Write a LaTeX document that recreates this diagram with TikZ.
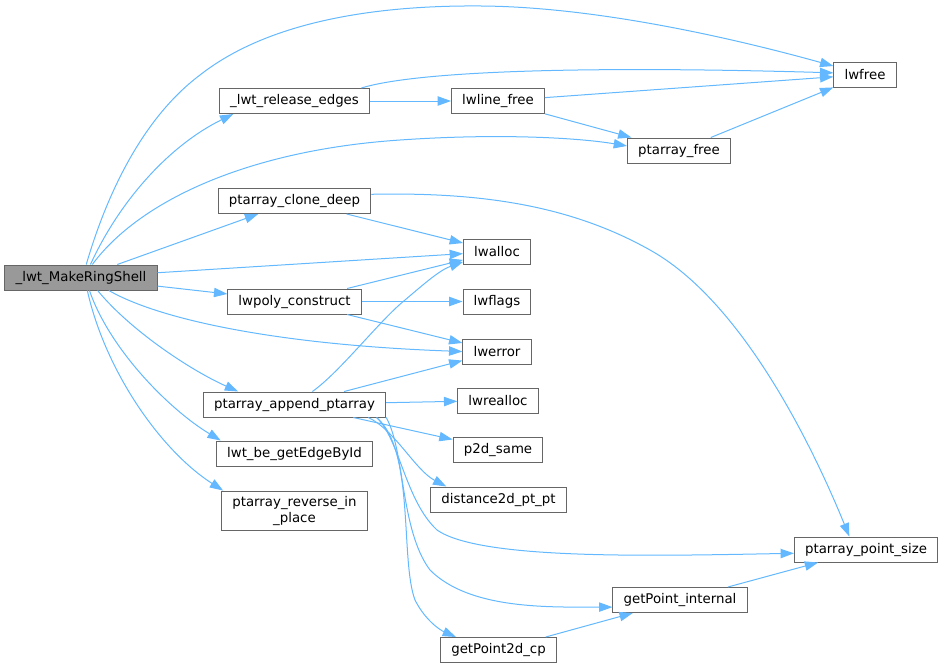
\documentclass[tikz,border=0pt]{standalone}
\usepackage{fontspec}
\setmainfont{DejaVu Sans}
\usetikzlibrary{arrows.meta}
\definecolor{edgeblue}{HTML}{63B8FF}
\definecolor{boxgray}{HTML}{666666}
\definecolor{mainfill}{HTML}{999999}
\begin{document}
\begin{tikzpicture}[x=0.75pt,y=-0.75pt,
  fn/.style={draw=boxgray,line width=0.75pt,inner xsep=8pt,minimum height=18.75pt},
  call/.style={draw=edgeblue,line width=0.75pt,-{Triangle[length=10pt,width=7pt]}}]
\useasboundingbox (0,0) rectangle (943,669);
\node[fn,fill=mainfill] (m) at (81,277.5) {\_lwt\_MakeRingShell};
\node[fn] (rel) at (294.5,101) {\_lwt\_release\_edges};
\node[fn] (lfree) at (498,101) {lwline\_free};
\node[fn] (free) at (865,74.5) {lwfree};
\node[fn] (pfree) at (679,150.5) {ptarray\_free};
\node[fn] (clone) at (294.5,201) {ptarray\_clone\_deep};
\node[fn] (alloc) at (497,251.5) {lwalloc};
\node[fn] (poly) at (294.5,301.5) {lwpoly\_construct};
\node[fn] (flags) at (497,301.5) {lwflags};
\node[fn] (err) at (497,351.5) {lwerror};
\node[fn] (app) at (294.5,404.5) {ptarray\_append\_ptarray};
\node[fn] (realloc) at (498,400.5) {lwrealloc};
\node[fn] (same) at (498,449.5) {p2d\_same};
\node[fn] (dist) at (498.5,499.5) {distance2d\_pt\_pt};
\node[fn] (edge) at (294.5,453.5) {lwt\_be\_getEdgeById};
\node[fn,align=center,inner ysep=4pt] (rev) at (294.5,511) {ptarray\_reverse\_in\\\_place};
\node[fn] (psize) at (866,549.5) {ptarray\_point\_size};
\node[fn] (gpi) at (680,600) {getPoint\_internal};
\node[fn] (gp2d) at (498.5,650) {getPoint2d\_cp};
\draw[call] (m.68) .. controls (105,200) and (140,120) .. (200,75)
  .. controls (270,20) and (380,5) .. (482,6)
  .. controls (600,7) and (740,40) .. (free.165);
\draw[call] (m.54) .. controls (120,200) and (170,145) .. (rel.192);
\draw[call] (m.49) .. controls (140,200) and (250,150) .. (400,140)
  .. controls (500,133) and (580,138) .. (pfree.175);
\draw[call] (m) -- (clone);
\draw[call] (m) -- (alloc);
\draw[call] (m) -- (poly);
\draw[call] (m.-25) .. controls (160,320) and (280,345) .. (err.west);
\draw[call] (m.-38) .. controls (130,330) and (190,370) .. (app.167);
\draw[call] (m.-57) .. controls (110,350) and (170,410) .. (edge.170);
\draw[call] (m.-64) .. controls (105,370) and (160,450) .. (rev.164);
\draw[call] (rel) -- (lfree);
\draw[call] (rel.11) .. controls (420,70) and (600,66) .. (free.177);
\draw[call] (lfree) -- (free);
\draw[call] (lfree) -- (pfree);
\draw[call] (pfree) -- (free);
\draw[call] (clone) -- (alloc);
\draw[call] (clone.5) .. controls (480,192) and (570,205) .. (650,250)
  .. controls (740,300) and (810,440) .. (psize.142);
\draw[call] (poly) -- (alloc);
\draw[call] (poly) -- (flags);
\draw[call] (poly) -- (err);
\draw[call] (app.36) .. controls (340,372) and (380,320) .. (405,300)
  .. controls (425,283) and (440,270) .. (alloc.197);
\draw[call] (app) -- (err);
\draw[call] (app) -- (realloc);
\draw[call] (app) -- (same);
\draw[call] (app.-10) .. controls (395,430) and (415,470) .. (dist.166);
\draw[call] (app.-9) .. controls (400,440) and (405,500) .. (437,530)
  .. controls (480,560) and (650,556) .. (psize.183);
\draw[call] (app.-8) .. controls (405,450) and (400,530) .. (430,570)
  .. controls (470,610) and (550,607) .. (gpi.186);
\draw[call] (app.-9.5) .. controls (415,450) and (400,560) .. (415,600)
  .. controls (425,620) and (440,630) .. (gp2d.163);
\draw[call] (gpi) -- (psize);
\draw[call] (gp2d) -- (gpi);
\end{tikzpicture}
\end{document}
